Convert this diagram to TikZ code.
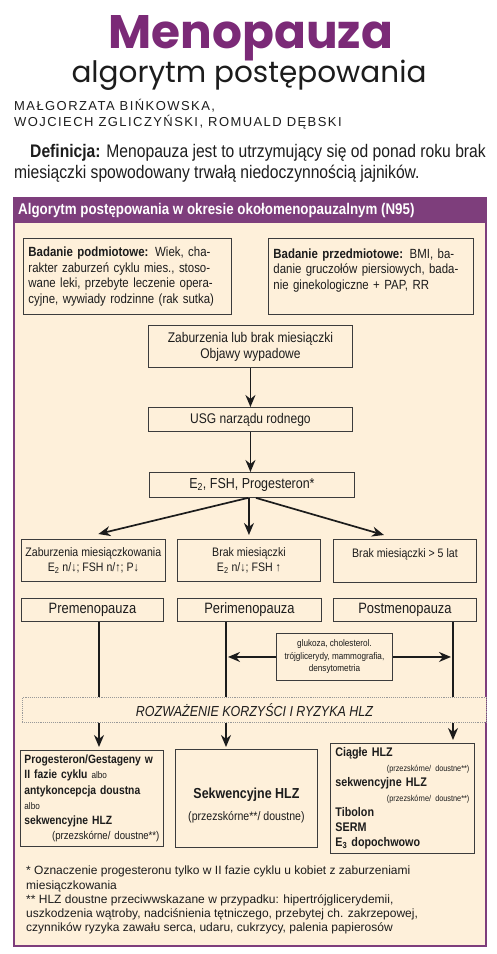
\documentclass[tikz,border=0pt]{standalone}
\usepackage{fontspec}
\setmainfont{Liberation Sans}[FakeStretch=0.86]
\newfontfamily\plainsans{Liberation Sans}
\newfontfamily\authorsans{Liberation Sans}[LetterSpace=11]
\newfontfamily\titlesans{Poppins}
\usetikzlibrary{arrows.meta}
\definecolor{menoPurple}{HTML}{7B2A77}
\definecolor{barPurple}{HTML}{7E3E7C}
\definecolor{cream}{HTML}{FEF0DA}
\definecolor{boxLine}{HTML}{3C3C3C}
\definecolor{inkDark}{HTML}{1C1C1C}
\tikzset{
  box/.style={draw=boxLine,line width=.9pt,fill=cream,inner sep=4pt,text=inkDark,font=\fontsize{13.3}{15.5}\selectfont},
  dotband/.style={draw=gray!80,densely dotted,line width=.9pt,fill=cream,text=inkDark},
  arr/.style={line width=1.7pt,draw=inkDark,-{Stealth[length=12pt,width=10pt]}},
  conn/.style={line width=1.7pt,draw=inkDark},
}
\newcommand{\smallnote}[1]{\makebox[\linewidth][r]{\fontsize{8.5}{10}\selectfont #1}}
\begin{document}
\begin{tikzpicture}[x=1pt,y=-1pt]
\useasboundingbox (0,0) rectangle (496,954);
% title and authors
\node[anchor=base,text=menoPurple,font=\titlesans\bfseries\fontsize{47}{50}\selectfont] (title) at (251,48) {Menopauza};
\node[anchor=base,text=inkDark,font=\titlesans\fontsize{29.5}{33}\selectfont] (subtitle) at (249,82) {algorytm postępowania};
\node[anchor=base west,inner sep=0pt,text=inkDark,font=\authorsans\fontsize{13}{15}\selectfont] (authA) at (14,110) {MAŁGORZATA BIŃKOWSKA,};
\node[anchor=base west,inner sep=0pt,text=inkDark,font=\authorsans\fontsize{13}{15}\selectfont] (authB) at (14,126) {WOJCIECH ZGLICZYŃSKI, ROMUALD DĘBSKI};
\node[anchor=base west,inner sep=0pt,text=inkDark,font=\fontsize{18.2}{21}\selectfont] (defA) at (30,157) {\textbf{Definicja:} Menopauza jest to utrzymujący się od ponad roku brak};
\node[anchor=base west,inner sep=0pt,text=inkDark,font=\fontsize{18.2}{21}\selectfont] (defB) at (14,178) {miesiączki spowodowany trwałą niedoczynnością jajników.};
% frame
\draw[barPurple,line width=1.6pt,fill=cream] (14,198) rectangle (486,946);
\fill[barPurple] (14,198) rectangle (486,223);
\node[anchor=west,inner sep=0pt,text=white,font=\bfseries\fontsize{15.5}{17}\selectfont] (hdr) at (18,210.5) {Algorytm postępowania w okresie okołomenopauzalnym (N95)};
% boxes
\node[box,anchor=north west,minimum width=208,minimum height=76,text width=198,align=left,inner xsep=5pt] (pod) at (23,238)
  {\textbf{Badanie podmiotowe:} Wiek, cha-\\rakter zaburzeń cyklu mies., stoso-\\wane leki, przebyte leczenie opera-\\cyjne, wywiady rodzinne (rak sutka)};
\node[box,anchor=north west,minimum width=205,minimum height=76,text width=195,align=left,inner xsep=5pt] (przed) at (268,238)
  {\textbf{Badanie przedmiotowe:} BMI, ba-\\danie gruczołów piersiowych, bada-\\nie ginekologiczne + PAP, RR\\\mbox{}};
\node[box,anchor=north west,minimum width=204,minimum height=42,align=center,font=\fontsize{14}{16}\selectfont] (zab) at (148,325) {Zaburzenia lub brak miesiączki\\Objawy wypadowe};
\node[box,anchor=north west,minimum width=204,minimum height=24,align=center,font=\fontsize{14}{16}\selectfont] (usg) at (148,407) {USG narządu rodnego};
\node[box,anchor=north west,minimum width=205,minimum height=25,align=center,font=\fontsize{14.5}{16}\selectfont] (e2) at (149,472) {E\textsubscript{2}, FSH, Progesteron*};
\node[box,anchor=north west,minimum width=142,minimum height=42,align=center,font=\fontsize{12.3}{15}\selectfont] (zm) at (21,539) {Zaburzenia miesiączkowania\\E\textsubscript{2} n/↓; FSH n/↑; P↓};
\node[box,anchor=north west,minimum width=143,minimum height=42,align=center,font=\fontsize{12.3}{15}\selectfont] (brak) at (177,539) {Brak miesiączki\\E\textsubscript{2} n/↓; FSH ↑};
\node[box,anchor=north west,minimum width=143,minimum height=43,align=center,font=\fontsize{12.3}{15}\selectfont] (brakpiec) at (333,539) {Brak miesiączki > 5 lat\\\mbox{}};
\node[box,anchor=north west,minimum width=142,minimum height=23,font=\fontsize{15}{17}\selectfont] (pre) at (21,598) {Premenopauza};
\node[box,anchor=north west,minimum width=144,minimum height=23,font=\fontsize{15}{17}\selectfont] (peri) at (177,598) {Perimenopauza};
\node[box,anchor=north west,minimum width=143,minimum height=23,font=\fontsize{15}{17}\selectfont] (post) at (333,598) {Postmenopauza};
\node[box,anchor=north west,minimum width=116,minimum height=47,align=center,font=\fontsize{9.5}{12.5}\selectfont] (gluk) at (276,633) {glukoza, cholesterol.\\trójglicerydy, mammografia,\\densytometria};
\node[dotband,anchor=north west,minimum width=464,minimum height=25,font=\itshape\fontsize{14.5}{17}\selectfont] (band) at (22,697) {ROZWAŻENIE KORZYŚCI I RYZYKA HLZ};
\node[box,anchor=north west,minimum width=143,minimum height=96,text width=135,align=left,inner xsep=4pt,font=\fontsize{12}{15.2}\selectfont] (hlzA) at (20,750)
  {\textbf{Progesteron/Gestageny w}\\\textbf{II fazie cyklu} {\fontsize{9.5}{11}\selectfont albo}\\\textbf{antykoncepcja doustna}\\{\fontsize{9.5}{11}\selectfont albo}\\\textbf{sekwencyjne HLZ}\\\smallnote{\fontsize{11.2}{12}\selectfont(przezskórne/ doustne**)}};
\node[box,anchor=north west,minimum width=142,minimum height=98,align=center,font=\fontsize{12.3}{22}\selectfont] (hlzB) at (175,749)
  {\rule{0pt}{24pt}{\bfseries\fontsize{14.5}{22}\selectfont Sekwencyjne HLZ}\\(przezskórne**/ doustne)};
\node[box,anchor=north west,minimum width=144,minimum height=110,text width=134,align=left,inner xsep=5pt,font=\fontsize{12.5}{15}\selectfont] (hlzC) at (330,743)
  {\textbf{Ciągłe HLZ}\\\smallnote{(przezskórne/ doustne**)}\\\textbf{sekwencyjne HLZ}\\\smallnote{(przezskórne/ doustne**)}\\\textbf{Tibolon}\\\textbf{SERM}\\\textbf{E\textsubscript{3} dopochwowo}};
% footnotes
\node[anchor=north west,inner sep=0pt,align=left,text=inkDark,font=\plainsans\fontsize{12}{14.2}\selectfont] (notes) at (26,866)
  {* Oznaczenie progesteronu tylko w II fazie cyklu u kobiet z zaburzeniami\\miesiączkowania\\** HLZ doustne przeciwwskazane w przypadku: hipertrójglicerydemii,\\uszkodzenia wątroby, nadciśnienia tętniczego, przebytej ch. zakrzepowej,\\czynników ryzyka zawału serca, udaru, cukrzycy, palenia papierosów};
% connectors
\coordinate (colA) at (99,0);
\coordinate (colB) at (226,0);
\coordinate (colC) at (453,0);
\draw[arr] (zab.south) -- (usg.north);
\draw[arr] (usg.south) -- (usg.south |- e2.north);
\draw[arr] ([xshift=-4pt]e2.south) -- ([xshift=5pt,yshift=5pt]zm.north);
\draw[arr] (brak.north |- e2.south) -- ([yshift=4pt]brak.north);
\draw[arr] ([xshift=4pt]e2.south) -- ([xshift=-21pt,yshift=4pt]brakpiec.north);
\draw[conn] (pre.south -| colA) -- (band.north -| colA);
\draw[conn] (peri.south -| colB) -- (band.north -| colB);
\draw[conn] (post.south -| colC) -- (band.north -| colC);
\draw[arr] (gluk.west) -- ([xshift=2pt]gluk.west -| colB);
\draw[arr] (gluk.east) -- ([xshift=-2pt]gluk.east -| colC);
\draw[arr] (band.south -| colA) -- ([yshift=3pt]hlzA.north -| colA);
\draw[arr] (band.south -| colB) -- ([yshift=2pt]hlzB.north -| colB);
\draw[arr] (band.south -| colC) -- ([yshift=3pt]hlzC.north -| colC);
\end{tikzpicture}
\end{document}
